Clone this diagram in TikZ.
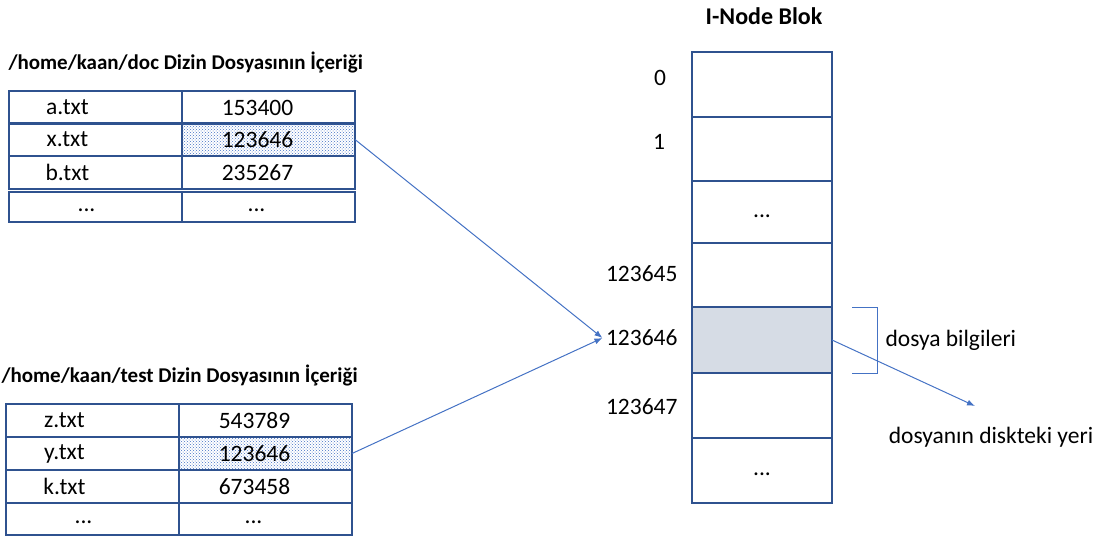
\documentclass[tikz,border=0pt]{standalone}
\usepackage{fontspec}
\setmainfont{Carlito}
\usetikzlibrary{positioning,patterns,arrows.meta}

\definecolor{cellblue}{RGB}{47,82,143}
\definecolor{arrowblue}{RGB}{68,114,196}
\definecolor{selgray}{RGB}{214,220,229}

\begin{document}
\begin{tikzpicture}[x=1pt,y=-1pt,font=\fontsize{23.5}{28}\selectfont]

\tikzstyle{cell}=[draw=cellblue,line width=1.1pt,rectangle,inner sep=0pt,outer sep=0pt,minimum width=173pt,minimum height=33pt,font=\fontsize{21}{25}\selectfont]
\tikzstyle{block}=[draw=cellblue,line width=1.1pt,rectangle,inner sep=0pt,outer sep=0pt,minimum width=140pt,minimum height=64pt]
\tikzstyle{dotted cell}=[pattern=crosshatch dots,pattern color=arrowblue]
\tikzstyle{title}=[font=\fontsize{21}{25}\selectfont\bfseries]
\tikzset{lc/.style={cell,label={[xshift=-28pt]center:#1}},
         rc/.style={cell,label={[xshift=-11pt]center:#1}},
         ldots/.style={cell,label={[xshift=-9pt,yshift=-3pt]center:...}},
         rdots/.style={cell,label={[xshift=-12pt,yshift=-3pt]center:...}},
         bdots/.style={block,label={[yshift=-4pt]center:...}},
         link/.style={draw=arrowblue,line width=1pt,-{Latex[length=8pt,width=6pt]}}}

\useasboundingbox (0,0) rectangle (1098,539);

% /home/kaan/doc
\node[title,anchor=west] (t1) at (5,62) {/home/kaan/doc Dizin Dosyasının İçeriği};
\node[lc=a.txt,anchor=north west] (c11) at (9,91) {};
\node[rc=153400,right=0pt of c11] (c12) {};
\node[lc=x.txt,anchor=north west] (c21) at (9,123) {};
\node[rc=123646,dotted cell,right=0pt of c21] (c22) {};
\node[lc=b.txt,anchor=north west] (c31) at (9,156) {};
\node[rc=235267,right=0pt of c31] (c32) {};
\node[ldots,anchor=north west,minimum height=30pt] (c41) at (9,192) {};
\node[rdots,minimum height=30pt,right=0pt of c41] (c42) {};

% /home/kaan/test
\node[title,anchor=west] (t2) at (-2,375) {/home/kaan/test Dizin Dosyasının İçeriği};
\node[lc=z.txt,anchor=north west] (d11) at (6,404) {};
\node[rc=543789,right=0pt of d11] (d12) {};
\node[lc=y.txt,anchor=north west] (d21) at (6,437) {};
\node[rc=123646,dotted cell,right=0pt of d21] (d22) {};
\node[lc=k.txt,anchor=north west] (d31) at (6,470) {};
\node[rc=673458,right=0pt of d31] (d32) {};
\node[ldots,anchor=north west,minimum height=32pt] (d41) at (6,503) {};
\node[rdots,minimum height=32pt,right=0pt of d41] (d42) {};

% I-Node Blok
\node[title,font=\fontsize{24}{28}\selectfont\bfseries] (t3) at (764,16) {I-Node Blok};
\node[block,anchor=north west,minimum height=65pt] (b0) at (692,52) {};
\node[block,below=0pt of b0] (b1) {};
\node[bdots,minimum height=62pt,below=0pt of b1] (b2) {};
\node[block,below=0pt of b2] (b3) {};
\node[block,fill=selgray,minimum height=66pt,below=0pt of b3] (b4) {};
\node[block,minimum height=65pt,below=0pt of b4] (b5) {};
\node[bdots,minimum height=65pt,below=0pt of b5] (b6) {};

\node (n0) at (660,78) {0};
\node (n1) at (659,142) {1};
\node[anchor=east] (n3) at (681,274) {123645};
\node[anchor=east] (n4) at (681,338) {123646};
\node[anchor=east] (n5) at (681,407) {123647};

\draw[draw=arrowblue,line width=1pt] ([xshift=20pt]b4.north east) -| ([xshift=45pt]b4.south east) -- ([xshift=20pt]b4.south east);
\node[anchor=west] (info) at (882,340) {dosya bilgileri};
\coordinate (disk) at (975,406);
\node (place) at (991,437) {dosyanın diskteki yeri};

\draw[link] (c22.east) -- (n4.west);
\draw[link] (d22.east) -- (n4.west);
\draw[link] (b4.east) -- (disk);

\end{tikzpicture}
\end{document}
